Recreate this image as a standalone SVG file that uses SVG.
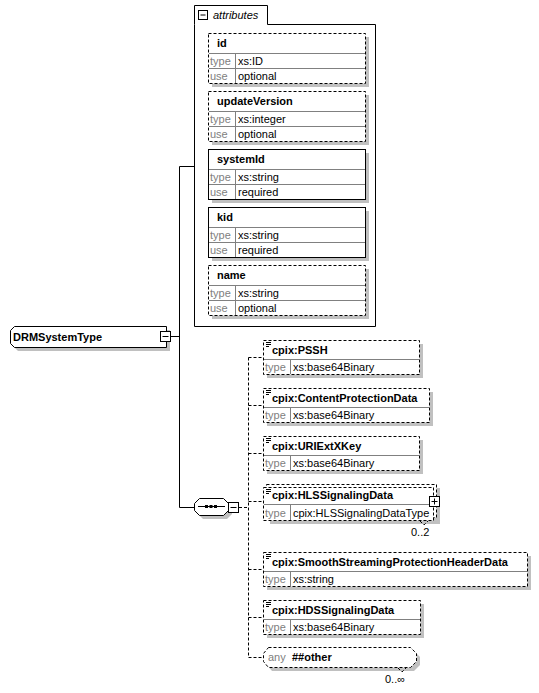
<svg xmlns="http://www.w3.org/2000/svg" width="539" height="693" viewBox="0 0 539 693">
<defs>
<style>
text{font-family:"Liberation Sans",Arial,sans-serif;font-size:11px;fill:#000}
.b{font-weight:bold}
.g{fill:#808080}
.it{font-style:italic}
.sh{fill:#c0c0c0;stroke:none}
.box{fill:#fff;stroke:#000;stroke-width:1}
.dbox{fill:#fff;stroke:#000;stroke-width:1;stroke-dasharray:3,2}
.sep{stroke:#808080;stroke-width:1;fill:none}
.ln{stroke:#000;stroke-width:1;fill:none}
.dl{stroke:#000;stroke-width:1;fill:none;stroke-dasharray:3,2}
.ic{fill:#fff;stroke:#000;stroke-width:1}
</style>
</defs>
<rect width="539" height="693" fill="#fff"/>

<g id="connectors">
<path class="ln" d="M170.5,336.5H179.5M179.5,166.5V507.5M179.5,166.5H194.5M179.5,507.5H194.5"/>
<path class="dl" d="M239,507.5H248.5M248.5,357.5V657.5M248.5,357.5H263M248.5,405.5H263M248.5,453.5H263M248.5,501.5H263M248.5,569.5H263M248.5,617.5H263M248.5,657.5H263"/>
</g>

<g id="DRMSystemType">
<polygon class="sh" points="18,330 170,330 170,351 18,351 14,347 14,334"/>
<polygon class="box" points="14.5,326.5 166.5,326.5 166.5,347.5 14.5,347.5 10.5,343.5 10.5,330.5"/>
<text class="b" x="13" y="341">DRMSystemType</text>
<rect class="ic" x="160.5" y="331.5" width="10" height="10"/>
<path class="ln" d="M162.5,336.5H168.5"/>
</g>

<g id="attributes">
<path class="box" d="M194.5,24.5V5.5H267.5V24.5H375.5V326.5H194.5Z"/>
<rect class="ic" x="198.5" y="10.5" width="9" height="9"/>
<path class="ln" d="M200.5,15H205.5"/>
<text class="it" x="213" y="19">attributes</text>
</g>

<g id="attr-id">
<rect class="sh" x="212" y="37" width="157" height="50"/>
<rect class="dbox" x="208.5" y="33.5" width="157" height="50"/>
<path class="sep" d="M209,53.5H365M209,68.5H365M235.5,54V83"/>
<text class="b" x="217" y="47">id</text>
<text class="g" x="210" y="65">type</text><text x="238" y="65">xs:ID</text>
<text class="g" x="210" y="80">use</text><text x="238" y="80">optional</text>
</g>

<g id="attr-updateVersion">
<rect class="sh" x="212" y="95" width="157" height="50"/>
<rect class="dbox" x="208.5" y="91.5" width="157" height="50"/>
<path class="sep" d="M209,111.5H365M209,126.5H365M235.5,112V141"/>
<text class="b" x="217" y="105">updateVersion</text>
<text class="g" x="210" y="123">type</text><text x="238" y="123">xs:integer</text>
<text class="g" x="210" y="138">use</text><text x="238" y="138">optional</text>
</g>

<g id="attr-systemId">
<rect class="sh" x="212" y="153" width="157" height="50"/>
<rect class="box" x="208.5" y="149.5" width="157" height="50"/>
<path class="sep" d="M209,169.5H365M209,184.5H365M235.5,170V199"/>
<text class="b" x="217" y="163">systemId</text>
<text class="g" x="210" y="181">type</text><text x="238" y="181">xs:string</text>
<text class="g" x="210" y="196">use</text><text x="238" y="196">required</text>
</g>

<g id="attr-kid">
<rect class="sh" x="212" y="211" width="157" height="50"/>
<rect class="box" x="208.5" y="207.5" width="157" height="50"/>
<path class="sep" d="M209,227.5H365M209,242.5H365M235.5,228V257"/>
<text class="b" x="217" y="221">kid</text>
<text class="g" x="210" y="239">type</text><text x="238" y="239">xs:string</text>
<text class="g" x="210" y="254">use</text><text x="238" y="254">required</text>
</g>

<g id="attr-name">
<rect class="sh" x="212" y="269" width="157" height="50"/>
<rect class="dbox" x="208.5" y="265.5" width="157" height="50"/>
<path class="sep" d="M209,285.5H365M209,300.5H365M235.5,286V315"/>
<text class="b" x="217" y="279">name</text>
<text class="g" x="210" y="297">type</text><text x="238" y="297">xs:string</text>
<text class="g" x="210" y="312">use</text><text x="238" y="312">optional</text>
</g>

<g id="sequence">
<polygon class="sh" points="203,502 227,502 232,507 232,514 227,519 203,519 198,514 198,507"/>
<polygon class="box" points="199.5,498.5 223.5,498.5 228.5,503.5 228.5,510.5 223.5,515.5 199.5,515.5 194.5,510.5 194.5,503.5"/>
<path class="ln" d="M198,506.5H225"/>
<rect x="205" y="505" width="3" height="3" fill="#000"/>
<rect x="209.5" y="505" width="3" height="3" fill="#000"/>
<rect x="214" y="505" width="3" height="3" fill="#000"/>
<rect class="ic" x="228.5" y="502.5" width="10" height="10"/>
<path class="ln" d="M230.5,507.5H236.5"/>
</g>

<g id="el-PSSH">
<rect class="sh" x="267" y="344" width="156" height="34"/>
<rect class="dbox" x="263.5" y="340.5" width="156" height="34"/>
<path class="sep" d="M264,359.5H419M290.5,360V374"/>
<path class="ln" d="M266,342.5H271M266,344.5H271M266,346.5H269"/>
<text class="b" x="272" y="354">cpix:PSSH</text>
<text class="g" x="265" y="371">type</text><text x="293" y="371">xs:base64Binary</text>
</g>

<g id="el-ContentProtectionData">
<rect class="sh" x="267" y="392" width="166" height="34"/>
<rect class="dbox" x="263.5" y="388.5" width="166" height="34"/>
<path class="sep" d="M264,407.5H429M290.5,408V422"/>
<path class="ln" d="M266,390.5H271M266,392.5H271M266,394.5H269"/>
<text class="b" x="272" y="402">cpix:ContentProtectionData</text>
<text class="g" x="265" y="419">type</text><text x="293" y="419">xs:base64Binary</text>
</g>

<g id="el-URIExtXKey">
<rect class="sh" x="267" y="440" width="156" height="34"/>
<rect class="dbox" x="263.5" y="436.5" width="156" height="34"/>
<path class="sep" d="M264,455.5H419M290.5,456V470"/>
<path class="ln" d="M266,438.5H271M266,440.5H271M266,442.5H269"/>
<text class="b" x="272" y="450">cpix:URIExtXKey</text>
<text class="g" x="265" y="467">type</text><text x="293" y="467">xs:base64Binary</text>
</g>

<g id="el-HLSSignalingData">
<rect class="sh" x="270" y="488" width="170" height="36"/>
<rect class="dbox" x="266.5" y="484.5" width="170" height="33"/>
<rect class="dbox" x="263.5" y="487.5" width="170" height="33"/>
<path class="sep" d="M264,504.5H433M290.5,505V520"/>
<path class="ln" d="M266,489.5H271M266,491.5H271M266,493.5H269"/>
<text class="b" x="272" y="499">cpix:HLSSignalingData</text>
<text class="g" x="265" y="517">type</text><text x="293" y="517">cpix:HLSSignalingDataType</text>
<path class="dl" d="M420,521L424,525L428,521"/>
<rect class="ic" x="429.5" y="496.5" width="10" height="10"/>
<path class="ln" d="M431.5,501.5H437.5M434.5,498.5V504.5"/>
<text x="411" y="536">0..2</text>
</g>

<g id="el-SmoothStreamingProtectionHeaderData">
<rect class="sh" x="267" y="556" width="264" height="34"/>
<rect class="dbox" x="263.5" y="552.5" width="264" height="34"/>
<path class="sep" d="M264,571.5H527M290.5,572V586"/>
<path class="ln" d="M266,554.5H271M266,556.5H271M266,558.5H269"/>
<text class="b" x="272" y="566">cpix:SmoothStreamingProtectionHeaderData</text>
<text class="g" x="265" y="583">type</text><text x="293" y="583">xs:string</text>
</g>

<g id="el-HDSSignalingData">
<rect class="sh" x="267" y="604" width="157" height="34"/>
<rect class="dbox" x="263.5" y="600.5" width="157" height="34"/>
<path class="sep" d="M264,619.5H420M290.5,620V634"/>
<path class="ln" d="M266,602.5H271M266,604.5H271M266,606.5H269"/>
<text class="b" x="272" y="614">cpix:HDSSignalingData</text>
<text class="g" x="265" y="631">type</text><text x="293" y="631">xs:base64Binary</text>
</g>

<g id="any-other">
<polygon class="sh" points="272,651 414,651 420,657 420,665 414,671 272,671 267,665 267,657"/>
<polygon class="dbox" points="268.5,647.5 410.5,647.5 416.5,653.5 416.5,661.5 410.5,667.5 268.5,667.5 263.5,661.5 263.5,653.5"/>
<path class="dl" d="M398,668L402,672L406,668"/>
<text class="g" x="268" y="661">any</text>
<text class="b" x="292" y="661">##other</text>
<text x="385" y="683">0..∞</text>
</g>
</svg>
